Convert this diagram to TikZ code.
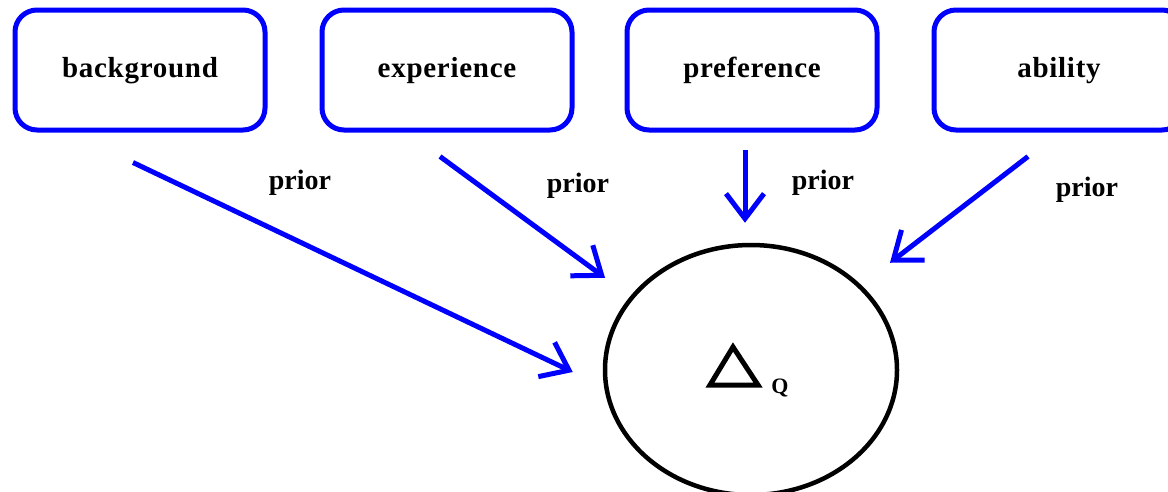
\documentclass[tikz,border=0pt]{standalone}
\usepackage{fontspec}
\setmainfont{Liberation Serif}
\newfontfamily\factorfont[LetterSpace=2.5]{Liberation Serif}
\usetikzlibrary{arrows.meta,positioning,shapes.geometric}
\definecolor{factorblue}{RGB}{0,0,255}
\newcommand{\factortext}[1]{\raisebox{-7pt}[0pt][0pt]{#1}}
\tikzset{
  factorbox/.style={rectangle, rounded corners=22pt, draw=factorblue, line width=5pt,
                    fill=white, minimum width=250pt, minimum height=120pt, inner sep=0pt,
                    font=\factorfont\fontsize{29}{34}\selectfont\bfseries},
  priorarr/.style={-{Straight Barb[length=25pt,width=38pt]}, line width=5pt, color=factorblue},
  priorlbl/.style={font=\fontsize{28}{32}\selectfont\bfseries, inner sep=1pt},
}

\begin{document}
\begin{tikzpicture}[x=1pt, y=-1pt]
  \useasboundingbox (0,0) rectangle (1168,491);
  % factor boxes
  \node[factorbox] (bg) at (140,70) {\factortext{background}};
  \node[factorbox] (exp) at (447,70) {\factortext{experience}};
  \node[factorbox] (pref) at (752,70) {\factortext{preference}};
  \node[factorbox] (abil) at (1059,70) {\factortext{ability}};
  % quality node
  \node[ellipse, draw=black, line width=4.5pt, minimum width=292pt, minimum height=250pt,
        inner sep=0pt] (q) at (751,370) {};
  \draw[line width=5pt, line join=miter] ([shift={(-41,15)}]q.center) -- ([shift={(-18,-23)}]q.center)
        -- ([shift={(7,15)}]q.center) -- cycle;
  \node[font=\fontsize{22}{26}\selectfont\bfseries, inner sep=0pt] (qsub) at (780,388) {Q};
  % prior arrows
  \draw[priorarr] ([shift={(-7,30)}]bg.south) -- ([shift={(-30,2)}]q.west);
  \draw[priorarr] ([shift={(-7,24)}]exp.south) -- ([shift={(-146,35)}]q.north);
  \draw[priorarr] ([shift={(-7,17)}]pref.south) -- ([shift={(-6,-20)}]q.north);
  \draw[priorarr] ([shift={(-31,24)}]abil.south) -- ([shift={(139,20)}]q.north);
  % labels
  \node[priorlbl] (p1) at (300,183) {prior};
  \node[priorlbl] (p2) at (578,186) {prior};
  \node[priorlbl] (p3) at (823,183) {prior};
  \node[priorlbl] (p4) at (1087,190) {prior};
\end{tikzpicture}
\end{document}
